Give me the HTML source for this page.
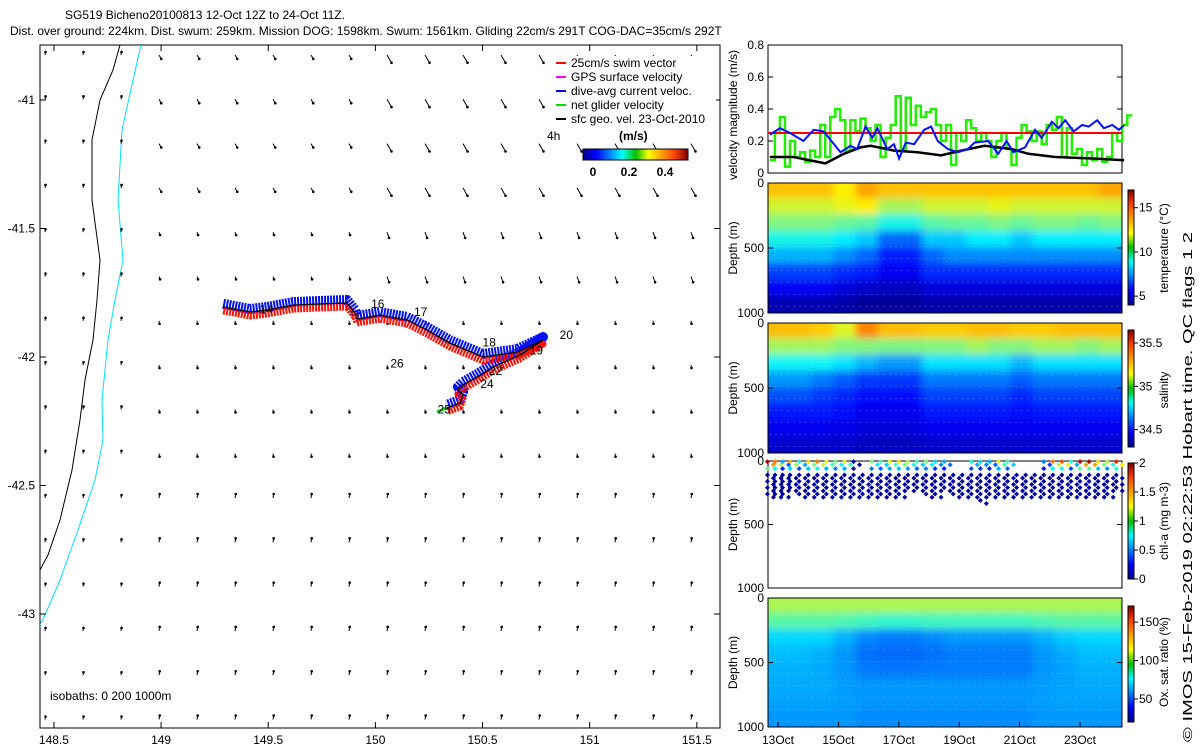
<!DOCTYPE html>
<html><head><meta charset="utf-8"><style>
body{margin:0;background:#fff;}
svg{display:block;font-family:"Liberation Sans",sans-serif;font-size:12px;}
</style></head><body>
<svg id="s" width="1200" height="750" viewBox="0 0 1200 750" xmlns="http://www.w3.org/2000/svg">
<defs>
<filter id="bl" x="-5%" y="-5%" width="110%" height="110%"><feGaussianBlur stdDeviation="4"/></filter>
<clipPath id="cT"><rect x="768" y="183" width="354" height="130"/></clipPath>
<clipPath id="cS"><rect x="768" y="323" width="354" height="130"/></clipPath>
<clipPath id="cO"><rect x="768" y="598" width="354" height="129"/></clipPath>
<clipPath id="cM"><rect x="40" y="45" width="680" height="683"/></clipPath>
<linearGradient id="jetH" x1="0" x2="1" y1="0" y2="0">
<stop offset="0" stop-color="#00008f"/><stop offset="0.125" stop-color="#0000ff"/><stop offset="0.375" stop-color="#00ffff"/><stop offset="0.5" stop-color="#00c000"/><stop offset="0.625" stop-color="#ffff00"/><stop offset="0.875" stop-color="#ff4000"/><stop offset="1" stop-color="#800000"/></linearGradient>
<linearGradient id="jetV" x1="0" x2="0" y1="1" y2="0">
<stop offset="0" stop-color="#00008f"/><stop offset="0.125" stop-color="#0000ff"/><stop offset="0.375" stop-color="#00ffff"/><stop offset="0.5" stop-color="#00c000"/><stop offset="0.625" stop-color="#ffff00"/><stop offset="0.875" stop-color="#ff4000"/><stop offset="1" stop-color="#800000"/></linearGradient>
</defs>
<text x="205" y="19" text-anchor="middle">SG519 Bicheno20100813 12-Oct 12Z to 24-Oct 11Z.</text>
<text x="10" y="35">Dist. over ground: 224km. Dist. swum: 259km. Mission DOG: 1598km. Swum: 1561km. Gliding 22cm/s 291T COG-DAC=35cm/s 292T</text>
<g id="map"></g>
<g id="right"></g>
<text transform="translate(1192,742) rotate(-90)" textLength="510" lengthAdjust="spacingAndGlyphs" font-size="13">© IMOS 15-Feb-2019 02:22:53 Hobart time. QC flags 1  2</text>
</svg>
<script>
// ---------- DATA ----------
const lonTicks=[148.5,149,149.5,150,150.5,151,151.5];
const latTicks=[-41,-41.5,-42,-42.5,-43];
const trackLon=[149.29,149.415,149.494,149.616,149.728,149.868,149.905,149.914,150.022,150.148,150.241,150.348,150.502,150.661,150.782,150.675,150.549,150.474,150.409,150.385,150.409,150.395,150.334];
const trackLat=[-41.805,-41.825,-41.817,-41.798,-41.794,-41.79,-41.829,-41.852,-41.837,-41.856,-41.895,-41.946,-42.0,-41.981,-41.934,-41.992,-42.039,-42.078,-42.109,-42.128,-42.148,-42.179,-42.198];
const dayLabels=["14","16","17","18","19","20","22","24","25","26"];
const dayLabLon=[149.46,149.98,150.18,150.5,150.72,150.86,150.53,150.49,150.29,150.07];
const dayLabLat=[-41.83,-41.81,-41.84,-41.96,-41.99,-41.93,-42.07,-42.12,-42.22,-42.04];
const coastX=[120,113,100,92,92,100,97,93,85,80,72,60,48,40];
const coastY=[45,70,100,140,200,260,300,340,380,420,470,520,555,570];
const iso200X=[141,133,122,118,123,115,108,102,103,95,78,60,45,40];
const iso200Y=[45,80,130,200,260,300,340,400,440,480,530,580,615,625];
// surface current arrows per band: direction (deg cw from north) and length (px)
const arrowDir=[150,160,170,10];
const arrowLen=[9,6,3,4];
// velocity panel
const velMax=0.8;
const dacT=[12.73,13.07,13.4,13.84,14.18,14.51,15.07,15.4,15.62,15.9,16.12,16.29,16.62,16.84,17.01,17.23,17.51,17.84,18.07,18.29,18.62,18.96,19.29,19.51,19.96,20.29,20.57,20.79,21.18,21.51,21.73,22.07,22.29,22.51,22.79,23.07,23.29,23.57,23.79,24.07,24.29,24.46];
const dacV=[0.24,0.28,0.25,0.2,0.27,0.26,0.13,0.17,0.15,0.29,0.22,0.28,0.15,0.18,0.09,0.19,0.18,0.27,0.29,0.2,0.15,0.13,0.15,0.19,0.2,0.12,0.2,0.13,0.16,0.27,0.22,0.32,0.28,0.33,0.26,0.3,0.29,0.33,0.28,0.3,0.27,0.3];
const geoT=[12.73,13.51,14.57,15.18,15.73,16.07,16.84,17.62,18.4,19.07,19.84,20.73,21.29,22.18,23.51,24.46];
const geoV=[0.1,0.1,0.06,0.12,0.16,0.17,0.14,0.13,0.11,0.14,0.17,0.15,0.12,0.1,0.09,0.08];
const netT0=12.73, netDt=0.1667;
const netV=[0.08,0.25,0.35,0.04,0.2,0.1,0.13,0.07,0.14,0.1,0.3,0.1,0.35,0.4,0.33,0.14,0.33,0.26,0.34,0.28,0.2,0.3,0.1,0.22,0.3,0.48,0.15,0.47,0.3,0.42,0.35,0.38,0.4,0.3,0.2,0.3,0.05,0.25,0.2,0.33,0.28,0.2,0.25,0.2,0.1,0.2,0.25,0.15,0.05,0.22,0.3,0.26,0.2,0.26,0.18,0.3,0.27,0.35,0.1,0.28,0.12,0.15,0.05,0.13,0.08,0.15,0.07,0.1,0.25,0.2,0.3,0.36];
const swimRef=0.25;
const timeTicks=[13,15,17,19,21,23];
const timeLabels=["13Oct","15Oct","17Oct","19Oct","21Oct","23Oct"];
// sections: 16 columns x 8 depth rows (0-1000 m)
const tempRows=[
[12.8,12.8,12.8,12.2,13.2,12.8,12.8,12.8,12.8,12.8,12.8,12.8,12.8,12.8,12.8,13.2],
[11.5,11.5,11.5,11.8,12.2,11,11,11.5,11.5,11.5,11.8,11.5,11.5,11.5,11.5,11.5],
[10.5,10.5,10.5,10.2,10,9.2,9.2,10,10.2,10.2,10.5,10.2,10.5,10.5,10.2,10.5],
[9.2,9.2,9.2,8.8,8.3,7,7,8.3,8.3,8.8,8.8,8.3,8.8,8.8,8.8,8.8],
[8,8,8,7.5,7,6,6,7,7.5,7.5,7.5,7.5,7.5,7.5,7.5,7.5],
[6.5,6.5,6.5,6.2,6,5.5,5.5,6.2,6.2,6.2,6.2,6.2,6.2,6.2,6.2,6.2],
[5.5,5.5,5.5,5.2,5,4.8,4.8,5.2,5.2,5.2,5.2,5.2,5.2,5.2,5.2,5.2],
[4.6,4.6,4.6,4.5,4.3,4.3,4.3,4.5,4.5,4.5,4.5,4.5,4.5,4.5,4.5,4.5]];
const salRows=[
[35.22,35.22,35.2,35.1,35.3,35.22,35.22,35.2,35.2,35.22,35.22,35.2,35.2,35.22,35.22,35.22],
[35.02,35.02,35.02,34.98,34.98,34.97,34.97,34.98,34.98,35.02,34.98,34.98,35.02,35.02,34.98,35.02],
[34.82,34.82,34.82,34.78,34.72,34.68,34.68,34.78,34.78,34.78,34.78,34.72,34.78,34.78,34.78,34.78],
[34.68,34.68,34.64,34.6,34.55,34.55,34.55,34.64,34.64,34.64,34.64,34.6,34.64,34.64,34.64,34.64],
[34.58,34.58,34.55,34.52,34.48,34.48,34.48,34.56,34.56,34.56,34.56,34.52,34.56,34.56,34.56,34.56],
[34.5,34.5,34.5,34.48,34.45,34.45,34.45,34.5,34.5,34.5,34.5,34.48,34.5,34.5,34.5,34.5],
[34.45,34.45,34.45,34.44,34.42,34.42,34.42,34.45,34.45,34.45,34.45,34.45,34.45,34.45,34.45,34.45],
[34.4,34.4,34.4,34.4,34.38,34.38,34.38,34.4,34.4,34.4,34.4,34.4,34.4,34.4,34.4,34.4]];
const oxRows=[
[102,102,102,102,102,102,102,102,102,102,102,102,102,102,102,102],
[90,90,90,88,86,84,84,86,86,86,86,86,88,90,90,90],
[72,72,72,66,60,58,58,60,62,62,62,62,66,70,72,72],
[68,68,66,62,56,55,55,56,58,58,58,58,62,65,68,68],
[66,66,65,62,58,57,57,58,58,58,58,58,62,64,66,66],
[65,65,65,63,62,62,62,62,62,62,62,62,63,64,65,65],
[64,64,64,63,62,62,62,62,62,62,62,62,63,64,64,64],
[62,62,62,62,60,60,60,60,60,60,60,60,62,62,62,62]];
// chlorophyll dives
const chlT=[12.75,13.0,13.25,13.5,13.8,14.1,14.4,14.7,15.0,15.3,15.6,15.9,16.2,16.5,16.8,17.1,17.4,17.7,18.0,18.3,18.6,18.9,19.2,19.5,19.8,20.1,20.4,20.7,21.0,21.3,21.6,21.9,22.2,22.5,22.8,23.1,23.4,23.7,24.0,24.3];
const chlSurf=[1.9,1.5,0.6,1.4,0.8,1.3,1.5,1.2,1.0,1.2,0.1,null,1.0,0.9,1.2,1.3,1.1,0.9,1.0,0.7,0.6,null,null,0.8,0.7,0.6,1.2,0.9,null,null,null,0.5,1.5,1.6,0.8,1.9,1.9,1.3,1.1,1.7];
const chlBottom=[270,300,260,250,300,260,270,290,280,300,260,300,270,260,300,280,240,250,300,280,250,300,280,270,310,280,290,270,300,260,280,300,290,300,270,300,280,290,260,250];

// ---------- helpers ----------
const S=document.getElementById('s'), NS='http://www.w3.org/2000/svg';
function mk(tag,attrs,parent){const e=document.createElementNS(NS,tag);for(const k in attrs)e.setAttribute(k,attrs[k]);(parent||S).appendChild(e);return e;}
function jet(t){t=Math.max(0,Math.min(1,t));const r=Math.max(0,Math.min(1,1.5-Math.abs(4*t-3))),g=Math.max(0,Math.min(1,1.5-Math.abs(4*t-2))),b=Math.max(0,Math.min(1,1.5-Math.abs(4*t-1)));return `rgb(${Math.round(r*255)},${Math.round(g*245)},${Math.round(b*255)})`;}
const xLon=l=>40+(l-148.435)*214.3, yLat=l=>100-(l+41)*257;
const xT=d=>778+(d-13)*30.2;
const map=document.getElementById('map'), R=document.getElementById('right');

// ---------- MAP ----------
let mb=mk('rect',{x:40,y:45,width:680,height:683,fill:'none',stroke:'#000'},map);


const mg=mk('g',{'clip-path':'url(#cM)'},map);
let cl=mk('polyline',{points:coastX.map((x,i)=>x+','+coastY[i]).join(' '),fill:'none',stroke:'#000','stroke-width':1},mg);


let iso=mk('polyline',{points:iso200X.map((x,i)=>x+','+iso200Y[i]).join(' '),fill:'none',stroke:'#00e0ff','stroke-width':1},mg);


for(let r=0;r<16;r++){const y=55+r*44.3;const band=r<4?0:(r<6?1:(r<10?2:3));
 for(let c=0;c<18;c++){const x=45+c*38;const left=c<3;const L=left?3:arrowLen[band]*(c>8||band>1?1:0.5);const a=(left?arrowDir[3]:arrowDir[band])*Math.PI/180;
  const x2=x+L*Math.sin(a),y2=y-L*Math.cos(a);
  let ar=mk('line',{x1:x,y1:y,x2:x2,y2:y2,stroke:'#000','stroke-width':1},mg);
  
  
  let hd=mk('circle',{cx:x2,cy:y2,r:1.3,fill:'#000'},mg);
  
  }}
const tp=trackLon.map((l,i)=>xLon(l)+','+yLat(trackLat[i])).join(' ');
let tb=mk('polyline',{points:tp,fill:'none',stroke:'#0010ff','stroke-width':10,'stroke-linejoin':'round','stroke-dasharray':'2 1',transform:'translate(0,-3)'},map);


let tr=mk('polyline',{points:tp,fill:'none',stroke:'#ff1000','stroke-width':7,'stroke-linejoin':'round','stroke-dasharray':'2 1',transform:'translate(0,4)'},map);


let tk=mk('polyline',{points:tp,fill:'none',stroke:'#000','stroke-width':1.3},map);


let gs=mk('line',{x1:xLon(150.334)-10,y1:yLat(-42.198)+4,x2:xLon(150.334),y2:yLat(-42.198),stroke:'#00e000','stroke-width':3},map);


dayLabels.forEach((t,i)=>{let e=mk('text',{x:xLon(dayLabLon[i]),y:yLat(dayLabLat[i])},map);e.textContent=t;
 
 });
lonTicks.forEach(l=>{const x=xLon(l);mk('line',{x1:x,y1:728,x2:x,y2:722,stroke:'#000'},map);mk('line',{x1:x,y1:45,x2:x,y2:51,stroke:'#000'},map);
 let e=mk('text',{x:x,y:744,'text-anchor':'middle'},map);e.textContent=l;
 
 });
latTicks.forEach(l=>{const y=yLat(l);mk('line',{x1:40,y1:y,x2:46,y2:y,stroke:'#000'},map);mk('line',{x1:720,y1:y,x2:714,y2:y,stroke:'#000'},map);
 let e=mk('text',{x:35,y:y+4,'text-anchor':'end'},map);e.textContent=l;
 
 });
let isot=mk('text',{x:50,y:700},map);isot.textContent='isobaths: 0   200  1000m';


// legend
const legC=['#ff0000','#ff00ff','#0000ff','#00e000','#000'];
const legT=['25cm/s swim vector','GPS surface velocity','dive-avg current veloc.','net glider velocity','sfc geo. vel. 23-Oct-2010'];
mk('rect',{x:552,y:56,width:164,height:70,fill:'#fff'},map);
legT.forEach((t,i)=>{const y=67+i*14;mk('line',{x1:556,y1:y-4,x2:566,y2:y-4,stroke:legC[i],'stroke-width':2},map);
 let e=mk('text',{x:571,y:y},map);e.textContent=t;
 
 });
let h4=mk('text',{x:547,y:140},map);h4.textContent='4h';


let ms=mk('text',{x:619,y:140,'font-weight':'bold'},map);ms.textContent='(m/s)';


let cb=mk('rect',{x:583,y:149,width:105,height:11,fill:'url(#jetH)',stroke:'#000'},map);


[['0',593],['0.2',629],['0.4',665]].forEach(a=>{let e=mk('text',{x:a[1],y:176,'text-anchor':'middle','font-weight':'bold'},map);e.textContent=a[0];
 
 });

// ---------- VELOCITY PANEL ----------
const vy=v=>173-v/velMax*128;
let vf=mk('rect',{x:768,y:45,width:354,height:128,fill:'none',stroke:'#000'},R);


[0,0.2,0.4,0.6,0.8].forEach(v=>{mk('line',{x1:768,y1:vy(v),x2:773,y2:vy(v),stroke:'#000'},R);mk('line',{x1:1122,y1:vy(v),x2:1117,y2:vy(v),stroke:'#000'},R);
 let e=mk('text',{x:764,y:vy(v)+4,'text-anchor':'end'},R);e.textContent=v;
 
 });
let np='';netV.forEach((v,i)=>{const x0=xT(netT0+i*netDt),x1=xT(netT0+(i+1)*netDt);np+=(i?'L':'M')+x0+','+vy(v)+'L'+x1+','+vy(v);});
let nl=mk('path',{d:np,fill:'none',stroke:'#22ee00','stroke-width':2.5},R);


let rl=mk('line',{x1:768,y1:vy(swimRef),x2:1122,y2:vy(swimRef),stroke:'#ff0000','stroke-width':2},R);


let gl=mk('polyline',{points:geoT.map((t,i)=>xT(t)+','+vy(geoV[i])).join(' '),fill:'none',stroke:'#000','stroke-width':2.5},R);


let dl=mk('polyline',{points:dacT.map((t,i)=>xT(t)+','+vy(dacV[i])).join(' '),fill:'none',stroke:'#0010ff','stroke-width':2},R);


let vl=mk('text',{transform:'translate(737,180) rotate(-90)'},R);vl.textContent='velocity magnitude (m/s)';



// ---------- SECTIONS ----------
function section(name,top,h,rows,vmin,vmax,clip,cbTop,cbBot,ticks,label,labelY){
 const g=mk('g',{'clip-path':'url(#'+clip+')'},R);const gi=mk('g',{filter:'url(#bl)'},g);
 const cw=354/16,rh=h/8;
 mk('rect',{x:760,y:top-8,width:370,height:h+16,fill:jet((rows[7][0]-vmin)/(vmax-vmin))},gi);
 rows.forEach((row,r)=>row.forEach((v,c)=>{let e=mk('rect',{x:768+c*cw-1-(c==0?8:0),y:top+r*rh-1-(r==0?8:0),width:cw+2+(c==0||c==15?8:0),height:rh+2+(r==0?8:0),fill:jet((v-vmin)/(vmax-vmin))},gi);
  
  }));
 for(let c=0;c<60;c++){mk('line',{x1:770+c*6,y1:top+15,x2:770+c*6,y2:top+h,stroke:'#fff','stroke-width':0.8,'stroke-dasharray':'1 11','opacity':0.5},g);}
 let f=mk('rect',{x:768,y:top,width:354,height:h,fill:'none',stroke:'#000'},R);
 
 
 depthAxis(top,h);
 let cbr=mk('rect',{x:1128,y:cbTop,width:6,height:cbBot-cbTop,fill:'url(#jetV)',stroke:'#000'},R);
 
 
 ticks.forEach(t=>{const y=cbBot-(t-vmin)/(vmax-vmin)*(cbBot-cbTop);mk('line',{x1:1134,y1:y,x2:1138,y2:y,stroke:'#000'},R);
  let e=mk('text',{x:1139,y:y+4},R);e.textContent=t;
  
  });
 let l=mk('text',{transform:`translate(1168,${labelY}) rotate(-90)`,'text-anchor':'middle'},R);l.textContent=label;
 
 
}
function depthAxis(top,h){
 [0,500,1000].forEach(d=>{const y=top+d/1000*h;mk('line',{x1:768,y1:y,x2:773,y2:y,stroke:'#000'},R);mk('line',{x1:1122,y1:y,x2:1117,y2:y,stroke:'#000'},R);
  let e=mk('text',{x:764,y:y+4,'text-anchor':'end'},R);e.textContent=d;
  
  });
 let l=mk('text',{transform:`translate(737,${top+h/2}) rotate(-90)`,'text-anchor':'middle'},R);l.textContent='Depth (m)';
 
 
}
section('temperature',183,130,tempRows,4,17,'cT',190,305,[5,10,15],'temperature (°C)',248);
section('salinity',323,130,salRows,34.3,35.65,'cS',330,447,[34.5,35,35.5],'salinity',390);
section('oxygen',598,129,oxRows,20,171,'cO',606,722,[50,100,150],'Ox. sat. ratio (%)',662);
// chlorophyll
const cTop=461,cH=127,cy=d=>cTop+d/1000*cH;
let cf=mk('rect',{x:768,y:cTop,width:354,height:cH,fill:'none',stroke:'#000'},R);


depthAxis(cTop,cH);
function dot(x,y,col){let e=mk('path',{d:`M${x},${y-2.5}L${x+2.5},${y}L${x},${y+2.5}L${x-2.5},${y}Z`,fill:col},R);
 
 }
chlT.forEach((t,i)=>{const x=xT(t);
 for(let d=110;d<=chlBottom[i];d+=50){dot(x-3,cy(d),jet(0.03));dot(x+3,cy(d+25),jet(0.03));}
 if(chlSurf[i]!==null){dot(x-3,cy(5),jet(chlSurf[i]/2));dot(x+3,cy(30),jet(chlSurf[i]*0.75/2));dot(x-3,cy(60),jet(chlSurf[i]*0.5/2));}
});
let ccb=mk('rect',{x:1128,y:463,width:6,height:116,fill:'url(#jetV)',stroke:'#000'},R);


[0,0.5,1,1.5,2].forEach(t=>{const y=579-t/2*116;mk('line',{x1:1134,y1:y,x2:1138,y2:y,stroke:'#000'},R);
 let e=mk('text',{x:1139,y:y+4},R);e.textContent=t;
 
 });
let chl=mk('text',{transform:'translate(1168,521) rotate(-90)','text-anchor':'middle'},R);chl.textContent='chl-a (mg m-3)';


// time axis
timeTicks.forEach((d,i)=>{const x=xT(d);mk('line',{x1:x,y1:727,x2:x,y2:722,stroke:'#000'},R);
 let e=mk('text',{x:x,y:744,'text-anchor':'middle'},R);e.textContent=timeLabels[i];
 
 });
</script>
</body></html>
